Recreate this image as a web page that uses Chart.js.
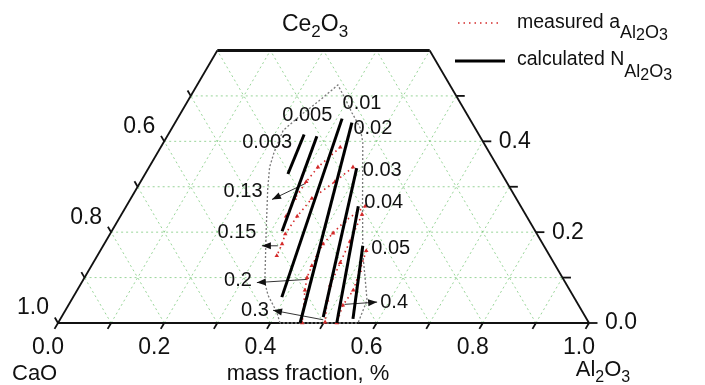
<!DOCTYPE html>
<html>
<head>
  <meta charset="utf-8">
  <script src="https://cdn.jsdelivr.net/npm/chart.js@4.4.0/dist/chart.umd.min.js"></script>
  <style>
    html, body { margin: 0; padding: 0; background: #fff; }
    canvas { display: block; }
  </style>
</head>
<body>
  <canvas id="ternChart" width="705" height="385"></canvas>

  <script>
    // compositions are [Al2O3, Ce2O3] mass fractions, CaO is the rest
    const isoLabels = ["0.003", "0.005", "0.01", "0.02", "0.03", "0.04", "0.05"];
    const isoLines = [
      [[0.256, 0.415], [0.269, 0.328]],
      [[0.282, 0.411], [0.321, 0.202]],
      [[0.310, 0.450], [0.393, 0.057]],
      [[0.333, 0.441], [0.456, 0.000]],
      [[0.392, 0.341], [0.493, 0.013]],
      [[0.437, 0.257], [0.525, 0.000]],
      [[0.489, 0.170], [0.551, 0.009]],
    ];
    const isoLabelPos = [
      [0.195, 0.398], [0.241, 0.457], [0.331, 0.483], [0.379, 0.428],
      [0.443, 0.335], [0.481, 0.265], [0.544, 0.165],
    ];

    const actLabels = ["0.13", "0.15", "0.2", "0.3", "0.4"];
    const actLines = [
      [[0.338, 0.387], [0.318, 0.343], [0.312, 0.311], [0.309, 0.274], [0.312, 0.235]],
      [[0.384, 0.343], [0.366, 0.311], [0.341, 0.274], [0.333, 0.235], [0.330, 0.196], [0.335, 0.174], [0.338, 0.148]],
      [[0.450, 0.257], [0.428, 0.224], [0.419, 0.198], [0.412, 0.174], [0.414, 0.148], [0.415, 0.126], [0.419, 0.100], [0.429, 0.072], [0.460, 0.000]],
      [[0.453, 0.239], [0.460, 0.180], [0.465, 0.133], [0.471, 0.083], [0.482, 0.050], [0.502, 0.002]],
      [[0.501, 0.159], [0.511, 0.115], [0.520, 0.072], [0.517, 0.039], [0.525, 0.000]],
    ];
    const actLabelPos = [[0.204, 0.289], [0.237, 0.200], [0.292, 0.094], [0.357, 0.028], [0.610, 0.046]];
    // arrows: [from, to]
    const actArrows = [
      [[0.312, 0.307], [0.267, 0.272]],
      [[0.329, 0.170], [0.299, 0.170]],
      [[0.421, 0.096], [0.330, 0.089]],
      [[0.496, 0.007], [0.391, 0.028]],
      [[0.519, 0.041], [0.578, 0.046]],
    ];

    const boundary = [
      [0.418, 0.000], [0.400, 0.024], [0.365, 0.061], [0.345, 0.089], [0.324, 0.133],
      [0.291, 0.202], [0.247, 0.296], [0.227, 0.343], [0.219, 0.376], [0.212, 0.424],
      [0.228, 0.457], [0.248, 0.491], [0.265, 0.524], [0.292, 0.496], [0.322, 0.463],
      [0.354, 0.430], [0.375, 0.398], [0.440, 0.267], [0.498, 0.152], [0.526, 0.104],
      [0.557, 0.050], [0.565, 0.000], [0.418, 0.000],
    ];

    const bottomTicks = [0, 0.2, 0.4, 0.6, 0.8, 1.0];
    const bottomTickLabels = ["0.0", "0.2", "0.4", "0.6", "0.8", "1.0"];
    const leftTicks = [0, 0.2, 0.4];             // Ce2O3 level
    const leftTickLabels = ["1.0", "0.8", "0.6"]; // CaO
    const rightTicks = [0, 0.2, 0.4];
    const rightTickLabels = ["0.0", "0.2", "0.4"];
    const topCut = 0.6;

    const FONT = '"Liberation Sans", Arial, sans-serif';
    const SQ3 = Math.sqrt(3) / 2;
    const tern = (a, c) => ({ x: a + c / 2, y: c * SQ3 });

    function line(points, opts) {
      return Object.assign({
        data: points.map(([a, c]) => tern(a, c)),
        showLine: true,
        pointRadius: 0,
        borderColor: "#000",
        borderWidth: 1,
        tension: 0,
        clip: false,
        order: 5,
      }, opts);
    }

    const datasets = [];

    // green grid
    const gridStyle = { borderColor: "rgba(110,195,110,0.7)", borderWidth: 1, borderDash: [2, 3], order: 20 };
    for (let i = 1; i <= 9; i++) {
      const k = i / 10;
      if (k < topCut) datasets.push(line([[0, k], [1 - k, k]], gridStyle));
      datasets.push(line([[k, 0], [k, Math.min(1 - k, topCut)]], gridStyle));
      const s = 1 - k;
      datasets.push(line([[s, 0], [Math.max(0, s - topCut), Math.min(s, topCut)]], gridStyle));
    }

    // frame
    const frame = { borderColor: "#111", borderWidth: 1.8, order: 10 };
    datasets.push(line([[0, 0], [1, 0]], frame));
    datasets.push(line([[0, 0], [0, topCut]], frame));
    datasets.push(line([[1, 0], [1 - topCut, topCut]], frame));
    datasets.push(line([[0, topCut], [1 - topCut, topCut]], { borderColor: "#111", borderWidth: 3, order: 10 }));

    // ticks
    for (let i = 0; i <= 10; i++) {
      const k = i / 10;
      datasets.push(line([[k, 0], [k, -0.013]], frame));
    }
    for (let i = 0; i <= 5; i++) {
      const c = i / 10;
      datasets.push(line([[0, c], [-0.012, c + 0.012]], frame));
      datasets.push(line([[1 - c, c], [1 - c + 0.016, c]], frame));
    }

    // region boundary
    datasets.push(line(boundary, { borderColor: "#7a7a7a", borderWidth: 1.3, borderDash: [2, 2], order: 8 }));

    // measured activity lines
    actLines.forEach(pts => {
      datasets.push(line(pts, {
        borderColor: "#d42a2a", borderWidth: 1.6, borderDash: [1.5, 3.5],
        pointRadius: 2.6, pointStyle: "triangle", pointBackgroundColor: "#d42a2a",
        pointBorderColor: "#d42a2a", pointBorderWidth: 0, order: 3,
      }));
    });

    // arrows
    actArrows.forEach(pts => {
      datasets.push(line(pts, { borderColor: "#333", borderWidth: 1, order: 4 }));
    });

    // calculated lines
    isoLines.forEach(pts => {
      datasets.push(line(pts, { borderColor: "#000", borderWidth: 3, order: 1 }));
    });

    function rich(ctx, parts, x, y, align) {
      let w = 0;
      parts.forEach(([t, size]) => { ctx.font = size + "px " + FONT; w += ctx.measureText(t).width; });
      let cx = align === "center" ? x - w / 2 : x;
      ctx.textAlign = "left";
      ctx.textBaseline = "alphabetic";
      parts.forEach(([t, size, dy]) => {
        ctx.font = size + "px " + FONT;
        ctx.fillText(t, cx, y + dy);
        cx += ctx.measureText(t).width;
      });
    }

    const overlay = {
      id: "overlay",
      afterDatasetsDraw(chart) {
        const { ctx, scales: { x, y } } = chart;
        const P = (a, c) => {
          const p = tern(a, c);
          return [x.getPixelForValue(p.x), y.getPixelForValue(p.y)];
        };
        ctx.save();
        ctx.fillStyle = "#111";

        // arrow heads
        actArrows.forEach(([from, to]) => {
          const [x0, y0] = P(from[0], from[1]);
          const [x1, y1] = P(to[0], to[1]);
          const ang = Math.atan2(y1 - y0, x1 - x0);
          ctx.save();
          ctx.translate(x1, y1);
          ctx.rotate(ang);
          ctx.beginPath();
          ctx.moveTo(0, 0);
          ctx.lineTo(-9, -3.5);
          ctx.lineTo(-9, 3.5);
          ctx.closePath();
          ctx.fill();
          ctx.restore();
        });

        // tick labels
        ctx.font = "23px " + FONT;
        ctx.textBaseline = "alphabetic";
        ctx.textAlign = "center";
        bottomTicks.forEach((a, i) => {
          const [px, py] = P(a, 0);
          ctx.fillText(bottomTickLabels[i], px - 10, py + 31);
        });
        ctx.textAlign = "right";
        ctx.textBaseline = "middle";
        leftTicks.forEach((c, i) => {
          const [px, py] = P(0, c);
          ctx.fillText(leftTickLabels[i], px - 9, py - 15);
        });
        ctx.textAlign = "left";
        rightTicks.forEach((c, i) => {
          const [px, py] = P(1 - c, c);
          ctx.fillText(rightTickLabels[i], px + 16, py);
        });

        // axis names
        ctx.font = "22px " + FONT;
        ctx.textBaseline = "alphabetic";
        ctx.textAlign = "left";
        ctx.fillText("CaO", 12, 380);
        ctx.textAlign = "center";
        ctx.fillText("mass fraction, %", 308, 380);
        rich(ctx, [["Al", 22, 0], ["2", 16, 6], ["O", 22, 0], ["3", 16, 6]], 603, 376, "center");
        rich(ctx, [["Ce", 23, 0], ["2", 17, 6], ["O", 23, 0], ["3", 17, 6]], 315, 31, "center");

        // line labels
        ctx.font = "20px " + FONT;
        ctx.textAlign = "center";
        ctx.textBaseline = "middle";
        isoLabels.forEach((t, i) => {
          const [px, py] = P(isoLabelPos[i][0], isoLabelPos[i][1]);
          ctx.fillText(t, px, py);
        });
        actLabels.forEach((t, i) => {
          const [px, py] = P(actLabelPos[i][0], actLabelPos[i][1]);
          ctx.fillText(t, px, py);
        });

        // legend
        ctx.strokeStyle = "#d42a2a";
        ctx.lineWidth = 1.6;
        ctx.setLineDash([1.5, 4]);
        ctx.beginPath();
        ctx.moveTo(458, 23);
        ctx.lineTo(502, 23);
        ctx.stroke();
        ctx.strokeStyle = "#000";
        ctx.lineWidth = 3;
        ctx.setLineDash([]);
        ctx.beginPath();
        ctx.moveTo(455, 61);
        ctx.lineTo(505, 61);
        ctx.stroke();
        ctx.fillStyle = "#111";
        rich(ctx, [["measured a", 19.5, 0], ["Al", 18, 10], ["2", 16, 12], ["O", 18, 10], ["3", 16, 12]], 517, 28, "left");
        rich(ctx, [["calculated N", 19.5, 0], ["Al", 18, 12], ["2", 16, 15], ["O", 18, 12], ["3", 16, 15]], 517, 65, "left");

        ctx.restore();
      },
    };

    new Chart(document.getElementById("ternChart"), {
      type: "scatter",
      data: { datasets },
      options: {
        responsive: false,
        devicePixelRatio: 1,
        animation: false,
        layout: { padding: { left: 58, right: 116, top: 0, bottom: 62 } },
        scales: {
          x: { type: "linear", min: 0, max: 1, display: false },
          y: { type: "linear", min: 0, max: 323 / 531, display: false },
        },
        plugins: { legend: { display: false }, tooltip: { enabled: false } },
      },
      plugins: [overlay],
    });
  </script>
</body>
</html>
